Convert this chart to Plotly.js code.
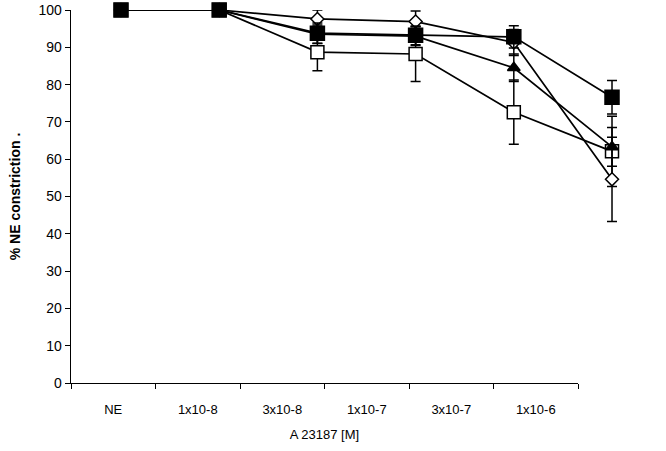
<!DOCTYPE html>
<html><head><meta charset="utf-8">
<script src="https://cdn.plot.ly/plotly-3.0.1.min.js"></script>
<style>html,body{margin:0;padding:0;background:#fff}#chart{width:666px;height:451px}</style>
</head><body><div id="chart"></div>
<script>
const categories = ['NE','1x10-8','3x10-8','1x10-7','3x10-7','1x10-6'];
const doseIndex = [0,1,2,3,4,5];
const openSquare = [100,100,88.7,88.2,72.6,62.1];
const openSquareErr = [0,0,5,7.4,8.6,9.4];
const openDiamond = [100,100,97.6,96.9,91.3,54.6];
const openDiamondErr = [0,0,2.4,2.8,3.5,11.3];
const filledTriangle = [100,100,93.5,93.0,84.5,63.3];
const filledTriangleErr = [0,0,2.5,2.5,3.7,5.2];
const filledSquare = [100,100,93.8,93.2,92.8,76.6];
const filledSquareErr = [0,0,2.7,2.5,3.0,4.5];

const font = 'Arial, "Liberation Sans", sans-serif';
function tr(y, err, symbol, fill, size){
  return {x: doseIndex, y: y, xaxis:'x2', yaxis:'y', type:'scatter', mode:'lines+markers',
    cliponaxis:false,
    line:{color:'#000', width:1.7},
    marker:{symbol:symbol, size:size, color:fill, line:{color:'#000', width:1.5}},
    error_y:{type:'data', array:err, visible:true, color:'#000', thickness:1.5, width:5},
    showlegend:false, hoverinfo:'skip'};
}
const data = [
  {x: categories, y: [null,null,null,null,null,null], xaxis:'x', yaxis:'y', type:'scatter', mode:'markers', showlegend:false, hoverinfo:'skip'},
  tr(openSquare, openSquareErr, 'square', '#fff', 13),
  tr(openDiamond, openDiamondErr, 'diamond', '#fff', 10),
  tr(filledTriangle, filledTriangleErr, 'triangle-up', '#000', 11),
  tr(filledSquare, filledSquareErr, 'square', '#000', 14)
];
const plotL = 71, plotR = 640, catR = 578;
const layout = {
  width:666, height:451,
  margin:{l:plotL, r:666-plotR, t:10, b:68},
  paper_bgcolor:'rgba(0,0,0,0)', plot_bgcolor:'rgba(0,0,0,0)',
  font:{family:font, color:'#000', size:13},
  xaxis:{type:'category', categoryorder:'array', categoryarray:categories,
    domain:[0,(catR-plotL)/(plotR-plotL)], range:[-0.5,5.5],
    tickson:'boundaries', ticks:'outside', ticklen:5, tickcolor:'#000', tickwidth:1,
    ticklabelstandoff:14,
    showline:true, linecolor:'#000', linewidth:1.3, showgrid:false, zeroline:false,
    tickfont:{family:font, size:13, color:'#000'},
    title:{text:'A 23187 [M]', font:{family:font, size:13, color:'#000'}, standoff:14},
    anchor:'y', fixedrange:true},
  xaxis2:{domain:[0,1], range:[-0.509,5.285], visible:false, anchor:'y', showgrid:false, zeroline:false},
  yaxis:{range:[0,100], tickvals:[0,10,20,30,40,50,60,70,80,90,100],
    ticks:'outside', ticklen:5, tickcolor:'#000', tickwidth:1,
    showline:true, linecolor:'#000', linewidth:1.3, showgrid:false, zeroline:false,
    tickfont:{family:font, size:14, color:'#000'},
    title:{text:'<b>% NE constriction .</b>', font:{family:font, size:14, color:'#000'}, standoff:14},
    anchor:'x', fixedrange:true}
};
Plotly.newPlot('chart', data, layout, {displayModeBar:false, staticPlot:true});
</script></body></html>
